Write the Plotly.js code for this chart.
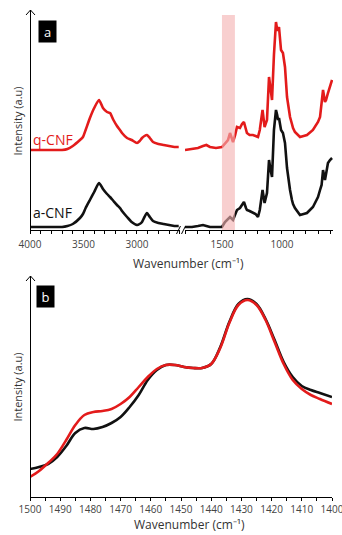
<!DOCTYPE html>
<html>
<head>
<meta charset="utf-8">
<script src="https://cdn.plot.ly/plotly-3.0.1.min.js"></script>
<style>html,body{margin:0;padding:0;background:#fff;}#chart{width:342px;height:535px;}</style>
</head>
<body>
<div id="chart"></div>
<script>
// ---------- DATA ----------
// Panel a, high-wavenumber segment (cm^-1)
const wnHigh = [4000,3800,3700,3650,3600,3533,3505,3480,3440,3400,3355,3318,3280,3252,3220,3187,3159,3140,3093,3050,3000,2975,2953,2930,2907,2880,2850,2800,2750,2700,2650,2610];
const aCnfHigh = [3,3,3,4,6,12,16,22,30,38,47,41,36,33,29,25,22,19,13,8,5,6,8,13,17,13,9,7,6,5,4,4];
const qCnfHigh = [80,80,80,81,84,90,93,100,112,122,130,122,118,117,110,104,100,97,92,90,87,89,92,94,95,92,88,86,85,84,83,83];

// Panel a, fingerprint segment (cm^-1)
const wnLow = [1808,1750,1700,1658,1630,1600,1550,1500,1475,1450,1433,1408,1390,1375,1350,1333,1317,1300,1292,1270,1242,1220,1200,1185,1162,1145,1125,1108,1095,1083,1067,1058,1050,1040,1033,1025,1008,992,975,958,950,933,917,908,892,850,820,792,742,700,683,670,658,642,633,617,600,583];
const aCnfLow = [3,3,4,5,4,3,3,3,8,11,13,10,15,20,22,25,28,22,20,19,17,16,13,20,40,27,37,70,60,53,100,115,120,115,110,112,100,97,87,62,53,40,30,26,22,15,16,17,23,33,40,45,60,50,56,67,70,72];
const qCnfLow = [80,81,82,84,85,83,82,83,87,90,97,88,95,103,102,106,108,100,97,95,95,94,93,100,120,103,110,153,140,130,175,200,208,200,200,203,180,177,163,133,125,113,106,102,98,93,94,95,100,108,113,125,140,128,130,137,145,150];

// Panel b, zoom 1500-1400 cm^-1
const wnZoom = [1500,1497,1494,1491,1488,1485,1482,1479,1476,1473,1470,1467,1464,1461,1458,1455,1452,1449,1446,1443,1440,1437,1434,1431,1428,1425,1422,1419,1416,1413,1410,1407,1404,1400];
const aCnfZoom = [28,30,33,40,51,64,69,68,70,74,80,90,102,117,127,132,132,130,129,129,133,150,175,193,198,193,178,157,135,120,111,107,104,100];
const qCnfZoom = [20,26,34,43,57,72,82,85,86,88,93,100,110,120,128,132,132,130,129,129,133,149,174,192,197,192,177,155,133,117,108,102,98,93];

const highTicks = [4000,3500,3000];
const lowTicks = [1500,1000];
const zoomTicks = [1500,1490,1480,1470,1460,1450,1440,1430,1420,1410,1400];
const seriesNames = ['a-CNF','q-CNF'];
const bandRange = [1500,1392];
const xTitle = 'Wavenumber (cm\u207B\u00B9)';
const yTitle = 'Intensity (a.u)';

// ---------- LAYOUT HELPERS ----------
const W = 342, H = 535, L = 30, R = 9;
const PW = W - L - R;
const px = v => (v - L) / PW;
const py = v => 1 - v / H;

const BLACK = '#111111', RED = '#e31b1b';
const FONT = 'Open Sans, Liberation Sans, sans-serif';

const traces = [
  {x: wnHigh, y: aCnfHigh, xaxis:'x', yaxis:'y', name: seriesNames[0], mode:'lines', line:{color:BLACK, width:2.6, shape:'spline', smoothing:0.6}},
  {x: wnHigh, y: qCnfHigh, xaxis:'x', yaxis:'y', name: seriesNames[1], mode:'lines', line:{color:RED, width:2.6, shape:'spline', smoothing:0.6}},
  {x: wnLow, y: aCnfLow, xaxis:'x2', yaxis:'y', name: seriesNames[0], mode:'lines', line:{color:BLACK, width:2.6}},
  {x: wnLow, y: qCnfLow, xaxis:'x2', yaxis:'y', name: seriesNames[1], mode:'lines', line:{color:RED, width:2.6}},
  {x: wnZoom, y: aCnfZoom, xaxis:'x3', yaxis:'y2', name: seriesNames[0], mode:'lines', line:{color:BLACK, width:2.6, shape:'spline', smoothing:1}},
  {x: wnZoom, y: qCnfZoom, xaxis:'x3', yaxis:'y2', name: seriesNames[1], mode:'lines', line:{color:RED, width:2.6, shape:'spline', smoothing:1}}
];

const tickFont = {family: FONT, size: 10, color: '#444'};
const xCommon = {
  showline:true, linecolor:'#000', linewidth:1, mirror:false,
  ticks:'outside', ticklen:3, tickwidth:1, tickcolor:'#000',
  ticklabeloverflow:'allow',
  showgrid:false, zeroline:false, tickfont:tickFont, fixedrange:true
};

const layout = {
  width: W, height: H,
  margin: {l: L, r: R, t: 0, b: 0},
  paper_bgcolor:'#fff', plot_bgcolor:'#fff',
  showlegend:false,
  font:{family: FONT, color:'#333'},
  xaxis: Object.assign({}, xCommon, {domain:[0, 150/PW], range:[4000, 2598], anchor:'y', ticklabelstandoff:2,
    tickvals: highTicks, minor:{dtick:100, tick0:0, ticks:'outside', ticklen:3, tickcolor:'#000', showgrid:false}}),
  xaxis2: Object.assign({}, xCommon, {domain:[155/PW, 1], range:[1808, 575], anchor:'y', ticklabelstandoff:2,
    tickvals: lowTicks, minor:{dtick:100, tick0:0, ticks:'outside', ticklen:3, tickcolor:'#000', showgrid:false}}),
  xaxis3: Object.assign({}, xCommon, {domain:[0, 302/PW], range:[1500, 1400], anchor:'y2', ticklabelstandoff:0,
    tickvals: zoomTicks, minor:{dtick:5, tick0:0, ticks:'outside', ticklen:3, tickcolor:'#000', showgrid:false}}),
  yaxis: {domain:[py(230), py(12)], range:[0, 218], showline:false, showticklabels:false, ticks:'',
    showgrid:false, zeroline:false, fixedrange:true,
    title:{text:yTitle, font:{family:FONT, size:11, color:'#333'}, standoff:4}},
  yaxis2: {domain:[py(497), py(277)], range:[0, 220], showline:false, showticklabels:false, ticks:'',
    showgrid:false, zeroline:false, fixedrange:true,
    title:{text:yTitle, font:{family:FONT, size:11, color:'#333'}, standoff:4}},
  shapes: [
    // highlighted 1500-1400 band
    {type:'rect', xref:'x2', yref:'paper', x0:bandRange[0], x1:bandRange[1], y0:py(230), y1:py(15),
      fillcolor:'rgba(244,178,178,0.62)', line:{width:0}, layer:'above'},
    // axis break marks
    {type:'line', xref:'paper', yref:'paper', x0:px(176.5), y0:py(234), x1:px(180.5), y1:py(226), line:{color:'#000', width:1}},
    {type:'line', xref:'paper', yref:'paper', x0:px(181.5), y0:py(234), x1:px(185.5), y1:py(226), line:{color:'#000', width:1}},
    // y axis arrows panel a
    {type:'line', xref:'paper', yref:'paper', x0:px(30.5), y0:py(230), x1:px(30.5), y1:py(10), line:{color:'#000', width:1}},
    {type:'line', xref:'paper', yref:'paper', x0:px(26), y0:py(15), x1:px(30.5), y1:py(10), line:{color:'#000', width:1}},
    {type:'line', xref:'paper', yref:'paper', x0:px(35), y0:py(15), x1:px(30.5), y1:py(10), line:{color:'#000', width:1}},
    // y axis arrows panel b
    {type:'line', xref:'paper', yref:'paper', x0:px(30.5), y0:py(497), x1:px(30.5), y1:py(276), line:{color:'#000', width:1}},
    {type:'line', xref:'paper', yref:'paper', x0:px(26), y0:py(281), x1:px(30.5), y1:py(276), line:{color:'#000', width:1}},
    {type:'line', xref:'paper', yref:'paper', x0:px(35), y0:py(281), x1:px(30.5), y1:py(276), line:{color:'#000', width:1}}
  ],
  annotations: [
    {text:'a', xref:'paper', yref:'paper', x:px(47.5), y:py(31.5), xanchor:'center', yanchor:'middle',
      showarrow:false, bgcolor:'#000', width:15, height:19, font:{family:FONT, size:13, color:'#fff'}},
    {text:'b', xref:'paper', yref:'paper', x:px(45.5), y:py(296.5), xanchor:'center', yanchor:'middle',
      showarrow:false, bgcolor:'#000', width:15, height:19, font:{family:FONT, size:13, color:'#fff'}},
    {text:seriesNames[1], xref:'paper', yref:'paper', x:px(52.5), y:py(139), xanchor:'center', yanchor:'middle',
      showarrow:false, font:{family:FONT, size:14, color:RED}},
    {text:seriesNames[0], xref:'paper', yref:'paper', x:px(52.5), y:py(212), xanchor:'center', yanchor:'middle',
      showarrow:false, font:{family:FONT, size:14, color:'#111'}},
    {text:xTitle, xref:'paper', yref:'paper', x:px(188), y:py(263), xanchor:'center', yanchor:'middle',
      showarrow:false, font:{family:FONT, size:12, color:'#333'}},
    {text:xTitle, xref:'paper', yref:'paper', x:px(189), y:py(535), xanchor:'center', yanchor:'bottom',
      showarrow:false, font:{family:FONT, size:12, color:'#333'}}
  ]
};

Plotly.newPlot('chart', traces, layout, {displayModeBar:false, staticPlot:true});
</script>
</body>
</html>
